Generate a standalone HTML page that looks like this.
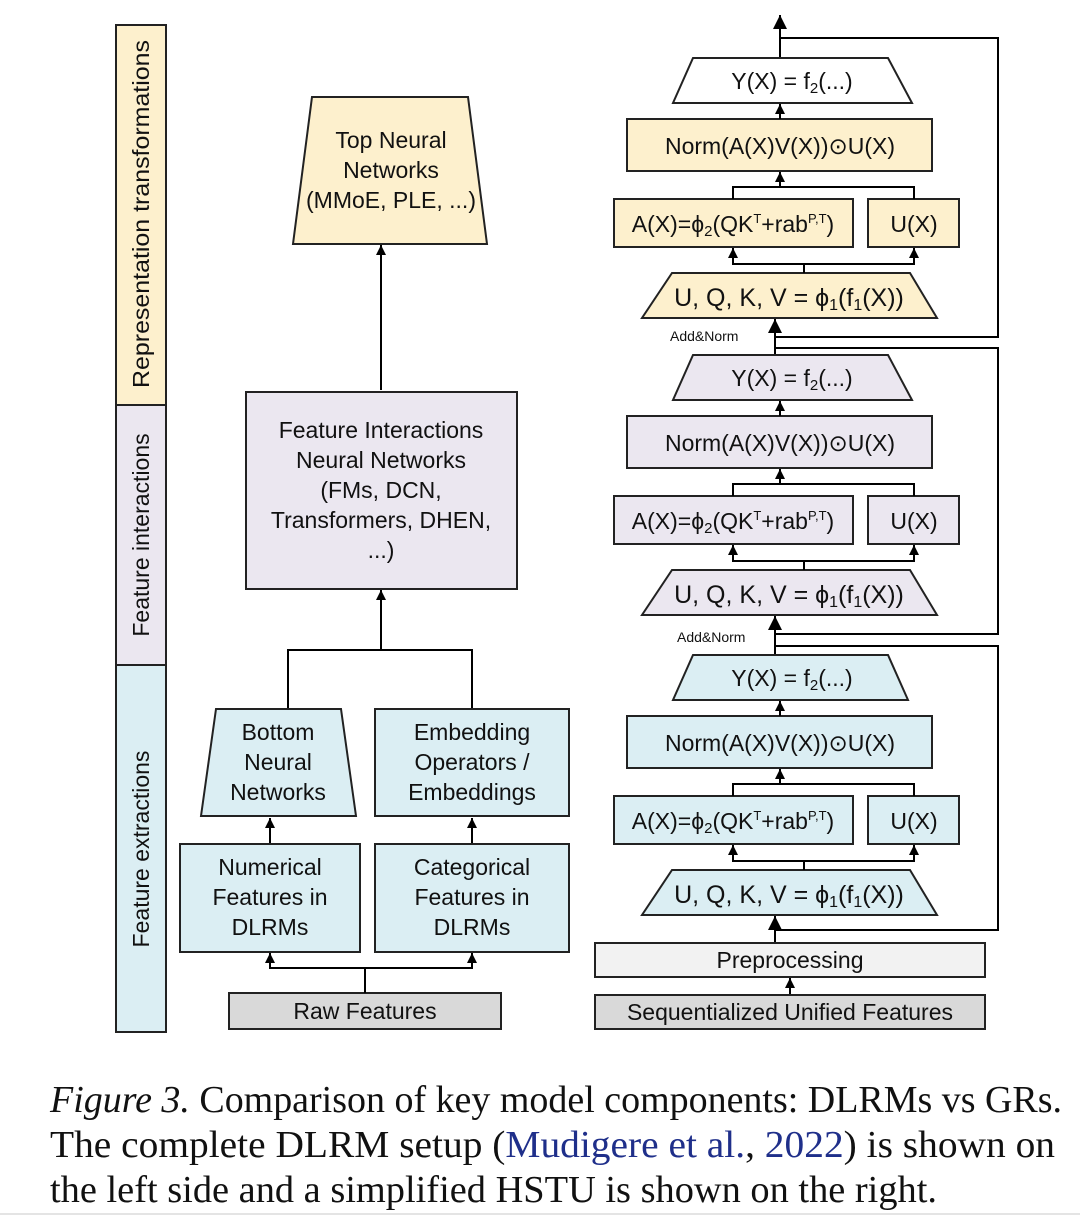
<!DOCTYPE html>
<html><head><meta charset="utf-8"><style>
html,body{margin:0;padding:0;background:#fff;}
svg{display:block;}
text{font-family:"Liberation Sans","DejaVu Sans",sans-serif;fill:#111;}
.cap{font-family:"Liberation Serif",serif;font-size:38px;}
</style></head><body>
<svg width="1080" height="1217" viewBox="0 0 1080 1217" xmlns="http://www.w3.org/2000/svg">
<defs>
<marker id="a" viewBox="0 0 10 10" refX="10" refY="5" markerWidth="10" markerHeight="10" markerUnits="userSpaceOnUse" orient="auto-start-reverse"><path d="M0,0 L10,5 L0,10 Z" fill="#000"/></marker>
<marker id="b" viewBox="0 0 10 10" refX="10" refY="5" markerWidth="16" markerHeight="14" markerUnits="userSpaceOnUse" orient="auto-start-reverse"><path d="M0,0 L10,5 L0,10 Z" fill="#000"/></marker>
</defs>
<g stroke="#222" stroke-width="2">
<rect x="116" y="25" width="50" height="380" fill="#fdf0cd"/>
<rect x="116" y="405" width="50" height="260" fill="#ebe7f0"/>
<rect x="116" y="665" width="50" height="367" fill="#dbeef3"/>
</g>
<g font-size="23" text-anchor="middle">
<text transform="translate(149,214) rotate(-90)" textLength="348" lengthAdjust="spacingAndGlyphs">Representation transformations</text>
<text transform="translate(149,535) rotate(-90)">Feature interactions</text>
<text transform="translate(149,849) rotate(-90)">Feature extractions</text>
</g>

<g stroke="#222" stroke-width="2">
<polygon points="312,97 468,97 487,244 293,244" fill="#fdf0cd"/>
<rect x="246" y="392" width="271" height="197" fill="#ebe7f0"/>
<polygon points="216,709 341,709 356,816 201,816" fill="#dbeef3"/>
<rect x="375" y="709" width="194" height="107" fill="#dbeef3"/>
<rect x="180" y="844" width="180" height="108" fill="#dbeef3"/>
<rect x="375" y="844" width="194" height="108" fill="#dbeef3"/>
<rect x="229" y="993" width="272" height="36" fill="#d9d9d9"/>
</g>
<g stroke="#000" stroke-width="2" fill="none">
<line x1="381" y1="390" x2="381" y2="245" marker-end="url(#a)"/>
<line x1="381" y1="650" x2="381" y2="590" marker-end="url(#a)"/>
<polyline points="288,708 288,650 472,650 472,708"/>
<line x1="270" y1="843" x2="270" y2="818" marker-end="url(#a)"/>
<line x1="472" y1="843" x2="472" y2="818" marker-end="url(#a)"/>
<polyline points="270,953 270,968 472,968 472,953" marker-start="url(#a)" marker-end="url(#a)"/>
<line x1="365" y1="968" x2="365" y2="993"/>
</g>
<g font-size="23" text-anchor="middle">
<text x="391" y="148">Top Neural</text>
<text x="391" y="178">Networks</text>
<text x="391" y="208">(MMoE, PLE, ...)</text>
<text x="381" y="438">Feature Interactions</text>
<text x="381" y="468">Neural Networks</text>
<text x="381" y="498">(FMs, DCN,</text>
<text x="381" y="528">Transformers, DHEN,</text>
<text x="381" y="558">...)</text>
<text x="278" y="740">Bottom</text>
<text x="278" y="770">Neural</text>
<text x="278" y="800">Networks</text>
<text x="472" y="740">Embedding</text>
<text x="472" y="770">Operators /</text>
<text x="472" y="800">Embeddings</text>
<text x="270" y="875">Numerical</text>
<text x="270" y="905">Features in</text>
<text x="270" y="935">DLRMs</text>
<text x="472" y="875">Categorical</text>
<text x="472" y="905">Features in</text>
<text x="472" y="935">DLRMs</text>
<text x="365" y="1019">Raw Features</text>
</g>

<g stroke="#000" stroke-width="2" fill="none">
<line x1="780" y1="58" x2="780" y2="15" marker-end="url(#b)"/>
<polyline points="780,38 998,38 998,337 775,337"/>
<polyline points="775,348 998,348 998,634 775,634"/>
<polyline points="775,646 998,646 998,930 775,930"/>
<line x1="775" y1="355" x2="775" y2="319" marker-end="url(#b)"/>
<line x1="775" y1="655" x2="775" y2="616" marker-end="url(#b)"/>
<line x1="775" y1="943" x2="775" y2="916" marker-end="url(#b)"/>
<line x1="790" y1="995" x2="790" y2="978" marker-end="url(#a)"/>
</g>
<g font-size="14"><text x="670" y="341">Add&amp;Norm</text><text x="677" y="642">Add&amp;Norm</text></g>

<g>
<g stroke="#222" stroke-width="2">
<polygon points="693,58 888,58 912,103 673,103" fill="#fff"/>
<rect x="627" y="119" width="305" height="52" fill="#fdf0cd"/>
<rect x="614" y="199" width="239" height="48" fill="#fdf0cd"/>
<rect x="868" y="199" width="91" height="48" fill="#fdf0cd"/>
<polygon points="672,273 910,273 937,318 642,318" fill="#fdf0cd"/>
</g>
<g stroke="#000" stroke-width="2" fill="none">
<line x1="780" y1="119" x2="780" y2="104" marker-end="url(#a)"/>
<line x1="780" y1="187" x2="780" y2="172" marker-end="url(#a)"/>
<polyline points="733,199 733,187 914,187 914,199"/>
<polyline points="733,248 733,264 914,264 914,248" marker-start="url(#a)" marker-end="url(#a)"/>
<line x1="804" y1="264" x2="804" y2="273"/>
</g>
<g font-size="23" text-anchor="middle">
<text x="792" y="89">Y(X) = f<tspan font-size="15" dy="4">2</tspan><tspan dy="-4">(...)</tspan></text>
<text x="780" y="154">Norm(A(X)V(X))⊙U(X)</text>
<text x="733" y="232">A(X)=ϕ<tspan font-size="15" dy="4">2</tspan><tspan dy="-4">(QK</tspan><tspan font-size="13" dy="-9">T</tspan><tspan dy="9">+rab</tspan><tspan font-size="13" dy="-9">P,T</tspan><tspan dy="9">)</tspan></text>
<text x="914" y="232">U(X)</text>
<text x="789" y="306" font-size="25">U, Q, K, V = ϕ<tspan font-size="16" dy="4">1</tspan><tspan dy="-4">(f</tspan><tspan font-size="16" dy="4">1</tspan><tspan dy="-4">(X))</tspan></text>
</g>
</g>

<g transform="translate(0,297)">
<g stroke="#222" stroke-width="2">
<polygon points="693,58 888,58 912,103 673,103" fill="#ebe7f0"/>
<rect x="627" y="119" width="305" height="52" fill="#ebe7f0"/>
<rect x="614" y="199" width="239" height="48" fill="#ebe7f0"/>
<rect x="868" y="199" width="91" height="48" fill="#ebe7f0"/>
<polygon points="672,273 910,273 937,318 642,318" fill="#ebe7f0"/>
</g>
<g stroke="#000" stroke-width="2" fill="none">
<line x1="780" y1="119" x2="780" y2="104" marker-end="url(#a)"/>
<line x1="780" y1="187" x2="780" y2="172" marker-end="url(#a)"/>
<polyline points="733,199 733,187 914,187 914,199"/>
<polyline points="733,248 733,264 914,264 914,248" marker-start="url(#a)" marker-end="url(#a)"/>
<line x1="804" y1="264" x2="804" y2="273"/>
</g>
<g font-size="23" text-anchor="middle">
<text x="792" y="89">Y(X) = f<tspan font-size="15" dy="4">2</tspan><tspan dy="-4">(...)</tspan></text>
<text x="780" y="154">Norm(A(X)V(X))⊙U(X)</text>
<text x="733" y="232">A(X)=ϕ<tspan font-size="15" dy="4">2</tspan><tspan dy="-4">(QK</tspan><tspan font-size="13" dy="-9">T</tspan><tspan dy="9">+rab</tspan><tspan font-size="13" dy="-9">P,T</tspan><tspan dy="9">)</tspan></text>
<text x="914" y="232">U(X)</text>
<text x="789" y="306" font-size="25">U, Q, K, V = ϕ<tspan font-size="16" dy="4">1</tspan><tspan dy="-4">(f</tspan><tspan font-size="16" dy="4">1</tspan><tspan dy="-4">(X))</tspan></text>
</g>
</g>

<g transform="translate(0,597)">
<g stroke="#222" stroke-width="2">
<polygon points="693,58 888,58 908,103 673,103" fill="#dbeef3"/>
<rect x="627" y="119" width="305" height="52" fill="#dbeef3"/>
<rect x="614" y="199" width="239" height="48" fill="#dbeef3"/>
<rect x="868" y="199" width="91" height="48" fill="#dbeef3"/>
<polygon points="672,273 910,273 937,318 642,318" fill="#dbeef3"/>
</g>
<g stroke="#000" stroke-width="2" fill="none">
<line x1="780" y1="119" x2="780" y2="104" marker-end="url(#a)"/>
<line x1="780" y1="187" x2="780" y2="172" marker-end="url(#a)"/>
<polyline points="733,199 733,187 914,187 914,199"/>
<polyline points="733,248 733,264 914,264 914,248" marker-start="url(#a)" marker-end="url(#a)"/>
<line x1="804" y1="264" x2="804" y2="273"/>
</g>
<g font-size="23" text-anchor="middle">
<text x="792" y="89">Y(X) = f<tspan font-size="15" dy="4">2</tspan><tspan dy="-4">(...)</tspan></text>
<text x="780" y="154">Norm(A(X)V(X))⊙U(X)</text>
<text x="733" y="232">A(X)=ϕ<tspan font-size="15" dy="4">2</tspan><tspan dy="-4">(QK</tspan><tspan font-size="13" dy="-9">T</tspan><tspan dy="9">+rab</tspan><tspan font-size="13" dy="-9">P,T</tspan><tspan dy="9">)</tspan></text>
<text x="914" y="232">U(X)</text>
<text x="789" y="306" font-size="25">U, Q, K, V = ϕ<tspan font-size="16" dy="4">1</tspan><tspan dy="-4">(f</tspan><tspan font-size="16" dy="4">1</tspan><tspan dy="-4">(X))</tspan></text>
</g>
</g>

<g stroke="#222" stroke-width="2">
<rect x="595" y="943" width="390" height="34" fill="#f2f2f2"/>
<rect x="595" y="995" width="390" height="34" fill="#d9d9d9"/>
</g>
<g font-size="23" text-anchor="middle">
<text x="790" y="968">Preprocessing</text>
<text x="790" y="1020">Sequentialized Unified Features</text>
</g>

<text class="cap" x="50" y="1112" textLength="1012" lengthAdjust="spacingAndGlyphs"><tspan font-style="italic">Figure 3.</tspan> Comparison of key model components: DLRMs vs GRs.</text>
<text class="cap" x="50" y="1157" textLength="1005" lengthAdjust="spacingAndGlyphs">The complete DLRM setup (<tspan fill="#1f2f8a">Mudigere et al.</tspan>, <tspan fill="#1f2f8a">2022</tspan>) is shown on</text>
<text class="cap" x="50" y="1202" textLength="887" lengthAdjust="spacingAndGlyphs">the left side and a simplified HSTU is shown on the right.</text>
<line x1="0" y1="1214" x2="1080" y2="1214" stroke="#e4e4e4" stroke-width="2"/>
</svg>
</body></html>
